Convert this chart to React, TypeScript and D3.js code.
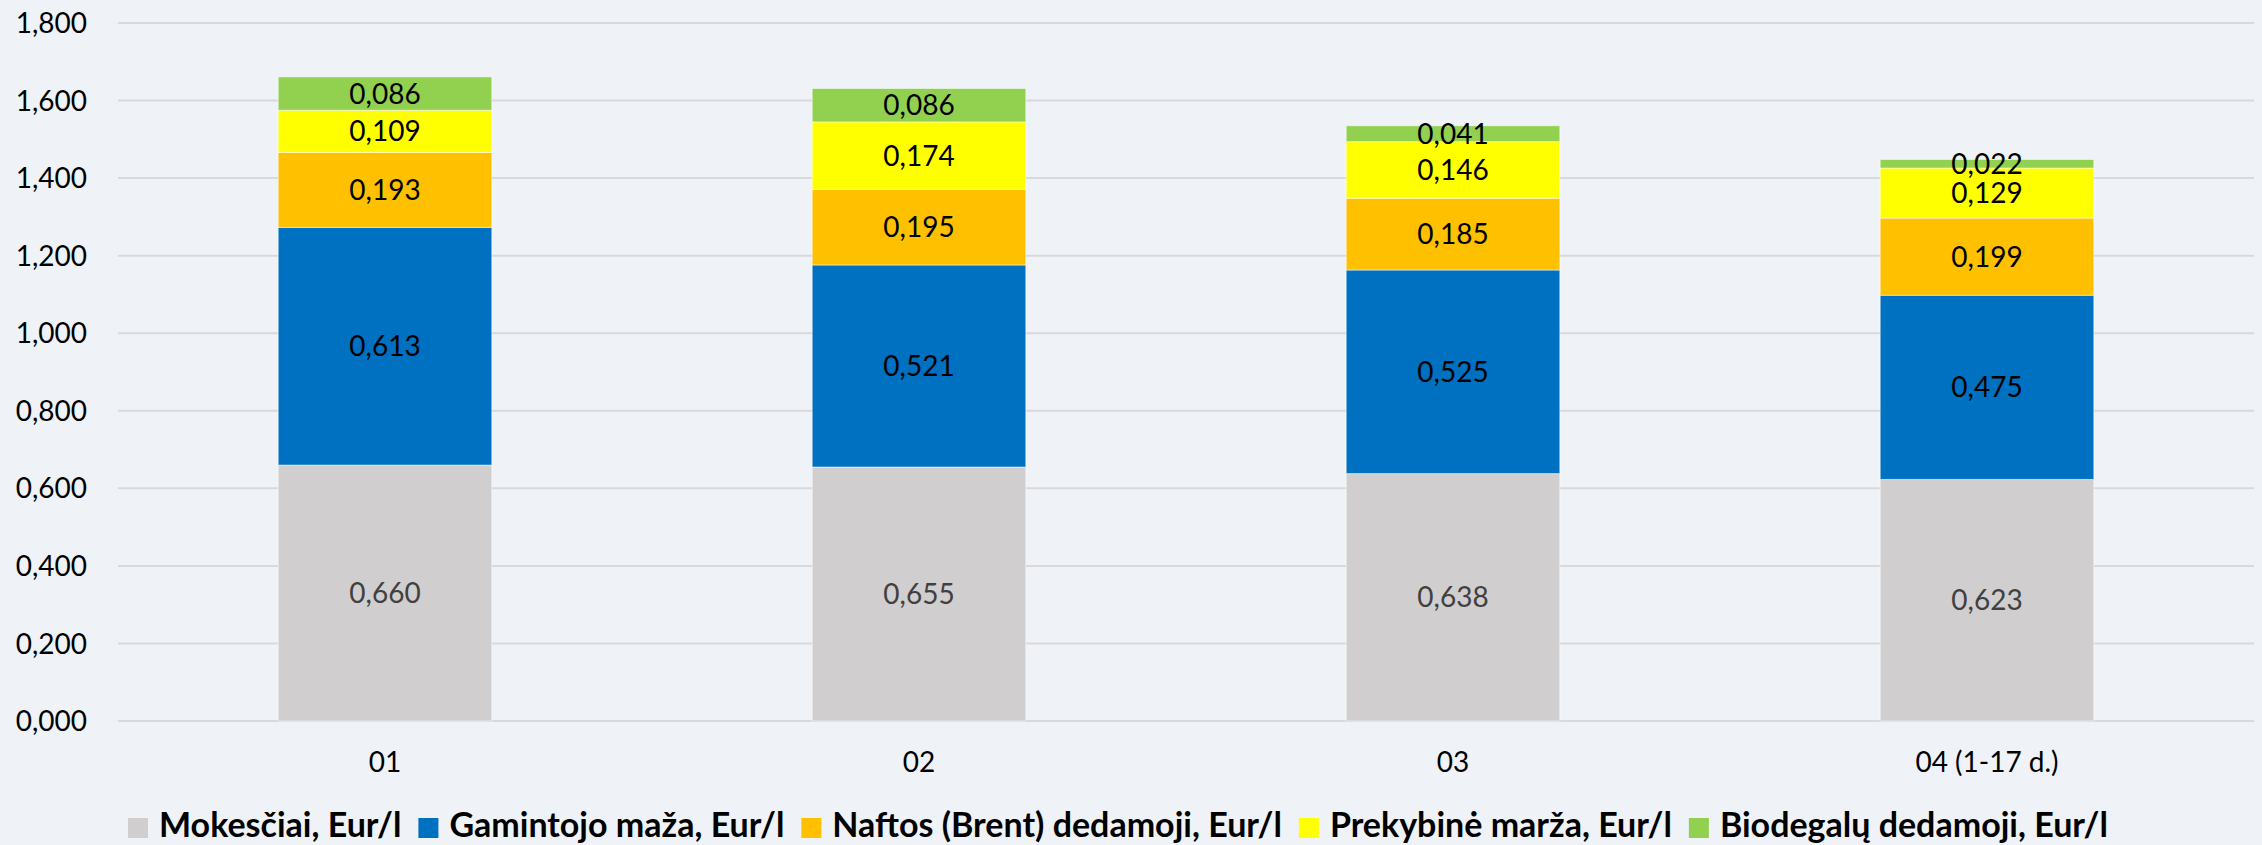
import React, { useEffect, useRef } from 'react';
import * as d3 from 'd3';

const categories = ['01', '02', '03', '04 (1-17 d.)'];
const seriesNames = [
	'Mokesčiai, Eur/l',
	'Gamintojo maža, Eur/l',
	'Naftos (Brent) dedamoji, Eur/l',
	'Prekybinė marža, Eur/l',
	'Biodegalų dedamoji, Eur/l',
];
const mokesciai = [0.660, 0.655, 0.638, 0.623];
const gamintojo = [0.613, 0.521, 0.525, 0.475];
const naftos = [0.193, 0.195, 0.185, 0.199];
const prekybine = [0.109, 0.174, 0.146, 0.129];
const biodegalu = [0.086, 0.086, 0.041, 0.022];
const yTicks = [0, 0.2, 0.4, 0.6, 0.8, 1.0, 1.2, 1.4, 1.6, 1.8];

const colors = ['#D0CECE', '#0070C0', '#FFC000', '#FFFF00', '#92D050'];
const labelColors = ['#404040', '#000', '#000', '#000', '#000'];

const W = 2262;
const H = 845;
const FONT = 'Lato, "Open Sans", sans-serif';

const fmt = (v: number) => d3.format('.3f')(v).replace('.', ',');

const drawChart = (svgEl: SVGSVGElement) => {
	const svg = d3.select(svgEl);
	svg.selectAll('*').remove();

	const margin = { left: 118, right: 8, top: 23, bottom: 124 };
	const x = d3.scaleBand<string>()
		.domain(categories)
		.range([margin.left, W - margin.right])
		.padding(0);
	const y = d3.scaleLinear()
		.domain([0, 1.8])
		.range([H - margin.bottom, margin.top]);

	svg.append('rect')
		.attr('width', W)
		.attr('height', H)
		.attr('fill', '#EFF3F7');

	// grid + y labels
	const grid = svg.append('g');
	grid.selectAll('line')
		.data(yTicks)
		.enter()
		.append('line')
		.attr('x1', margin.left)
		.attr('x2', W - margin.right)
		.attr('y1', (d) => y(d))
		.attr('y2', (d) => y(d))
		.attr('stroke', '#D9D9D9')
		.attr('stroke-width', 2);
	grid.selectAll('text')
		.data(yTicks)
		.enter()
		.append('text')
		.attr('x', 87)
		.attr('y', (d) => y(d))
		.attr('dy', '0.36em')
		.attr('text-anchor', 'end')
		.attr('font-family', FONT)
		.attr('font-size', 28)
		.attr('fill', '#000')
		.text((d) => fmt(d));

	const rows = categories.map((c, i) => ({
		cat: c,
		values: [mokesciai[i], gamintojo[i], naftos[i], prekybine[i], biodegalu[i]],
	}));
	const keys = [0, 1, 2, 3, 4];
	const stack = d3.stack<any, number>()
		.keys(keys)
		.value((d, k) => d.values[k]);
	const layers = stack(rows);

	const barW = x.bandwidth() * 0.4;
	const cx = (c: string) => (x(c) ?? 0) + x.bandwidth() / 2;

	const layerG = svg.selectAll('g.layer')
		.data(layers)
		.enter()
		.append('g')
		.attr('class', 'layer');

	layerG.selectAll('rect')
		.data((d) => d.map((p) => ({ p, k: d.key })))
		.enter()
		.append('rect')
		.attr('x', (d) => cx(d.p.data.cat) - barW / 2)
		.attr('width', barW)
		.attr('y', (d) => y(d.p[1]))
		.attr('height', (d) => y(d.p[0]) - y(d.p[1]))
		.attr('fill', (d) => colors[d.k])
		.attr('stroke', 'rgba(255,255,255,0.5)')
		.attr('stroke-width', 1);

	layerG.selectAll('text')
		.data((d) => d.map((p) => ({ p, k: d.key })))
		.enter()
		.append('text')
		.attr('x', (d) => cx(d.p.data.cat))
		.attr('y', (d) => (y(d.p[0]) + y(d.p[1])) / 2)
		.attr('dy', '0.36em')
		.attr('text-anchor', 'middle')
		.attr('font-family', FONT)
		.attr('font-size', 28)
		.attr('fill', (d) => labelColors[d.k])
		.text((d) => fmt(d.p.data.values[d.k]));

	// x labels
	svg.append('g')
		.selectAll('text')
		.data(categories)
		.enter()
		.append('text')
		.attr('x', (d) => cx(d))
		.attr('y', 772)
		.attr('text-anchor', 'middle')
		.attr('font-family', FONT)
		.attr('font-size', 28)
		.attr('fill', '#000')
		.text((d) => d);

	// legend: fit the text to the same overall width as the reference
	const legend = svg.append('g');
	const baseSize = 29;
	const texts = seriesNames.map((name) => legend.append('text')
		.attr('y', 837)
		.attr('font-family', FONT)
		.attr('font-size', baseSize)
		.attr('font-weight', 700)
		.attr('fill', '#000')
		.text(name));
	const measured = d3.sum(texts, (t) => (t.node() as SVGTextElement).getComputedTextLength());
	const targetText = 2035 - 5 * 31 - 4 * 17;
	const size = Math.min(34, baseSize * targetText / measured);
	let cursor = 128;
	texts.forEach((t, i) => {
		t.attr('font-size', size);
		legend.append('rect')
			.attr('x', cursor)
			.attr('y', 818)
			.attr('width', 20)
			.attr('height', 20)
			.attr('fill', colors[i]);
		t.attr('x', cursor + 31);
		const w = (t.node() as SVGTextElement).getComputedTextLength();
		cursor += 31 + w + 17;
	});
};

const App = () => {
	const ref = useRef<SVGSVGElement>(null);

	useEffect(() => {
		document.body.style.margin = '0';
		if (ref.current) drawChart(ref.current);
	}, []);

	return (
		<svg ref={ ref } width={ W } height={ H } style={{ display: 'block' }}/>
	);
};

export default App;
